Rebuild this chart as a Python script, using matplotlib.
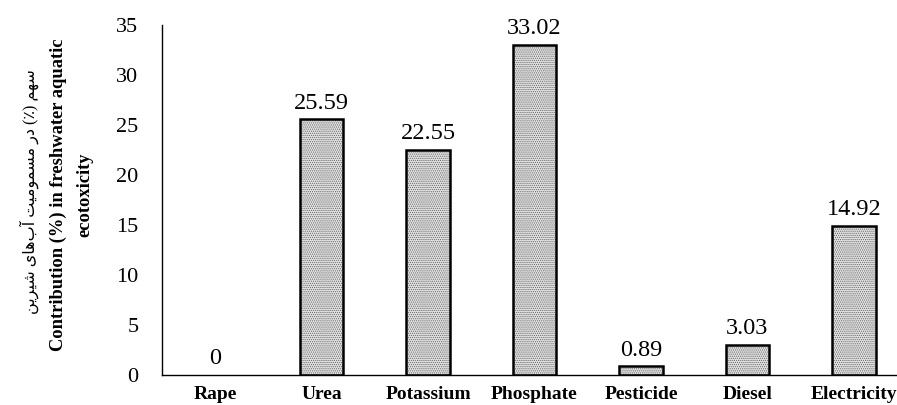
import matplotlib
matplotlib.use('Agg')
import matplotlib.pyplot as plt
import numpy as np

# data
categories = ['Rape', 'Urea', 'Potassium', 'Phosphate', 'Pesticide', 'Diesel', 'Electricity']
values = [0, 25.59, 22.55, 33.02, 0.89, 3.03, 14.92]
value_labels = ['0', '25.59', '22.55', '33.02', '0.89', '3.03', '14.92']
yticks = [0, 5, 10, 15, 20, 25, 30, 35]

label_fa = 'سهم (٪) در مسمومیت آب\u200cهای شیرین'
label_en = 'Contribution (%) in freshwater aquatic'
label_en2 = 'ecotoxicity'

# small arabic shaper (no arabic_reshaper / bidi available)
FORMS = {
    'ا': ('\uFE8D', '\uFE8E', None, None),
    'آ': ('\uFE81', '\uFE82', None, None),
    'د': ('\uFEA9', '\uFEAA', None, None),
    'ر': ('\uFEAD', '\uFEAE', None, None),
    'و': ('\uFEED', '\uFEEE', None, None),
    'ب': ('\uFE8F', '\uFE90', '\uFE91', '\uFE92'),
    'ت': ('\uFE95', '\uFE96', '\uFE97', '\uFE98'),
    'س': ('\uFEB1', '\uFEB2', '\uFEB3', '\uFEB4'),
    'ش': ('\uFEB5', '\uFEB6', '\uFEB7', '\uFEB8'),
    'م': ('\uFEE1', '\uFEE2', '\uFEE3', '\uFEE4'),
    'ن': ('\uFEE5', '\uFEE6', '\uFEE7', '\uFEE8'),
    'ه': ('\uFEE9', '\uFEEA', '\uFEEB', '\uFEEC'),
    'ی': ('\uFBFC', '\uFBFD', '\uFBFE', '\uFBFF'),
}


def shape_rtl(s):
    out = []
    for i, c in enumerate(s):
        if c not in FORMS:
            if c != '\u200c':
                out.append(c)
            continue
        p = s[i - 1] if i > 0 else ''
        n = s[i + 1] if i < len(s) - 1 else ''
        dual = FORMS[c][2] is not None
        pj = p in FORMS and FORMS[p][2] is not None
        nj = dual and n in FORMS
        if pj and nj:
            out.append(FORMS[c][3])
        elif pj:
            out.append(FORMS[c][1])
        elif nj:
            out.append(FORMS[c][2])
        else:
            out.append(FORMS[c][0])
    vis = ''.join(reversed(out))
    return vis.translate(str.maketrans('()', ')('))


plt.rcParams['font.family'] = ['Liberation Serif', 'DejaVu Sans']
plt.rcParams['hatch.linewidth'] = 0.6
plt.rcParams['hatch.color'] = '#6a6a6a'

fig = plt.figure(figsize=(8.97, 4.05), dpi=100)
ax = fig.add_axes([162 / 897, 30 / 405, 745 / 897, 350 / 405])

x = np.arange(len(categories))
ax.bar(x, values, width=0.41, color='#e2e2e2', hatch='........', edgecolor='#6a6a6a', linewidth=0)
edge_w = [1.8 if v > 0 else 0 for v in values]
ax.bar(x, values, width=0.41, fill=False, edgecolor='black', linewidth=edge_w)

for xi, v, t in zip(x, values, value_labels):
    ax.annotate(t, (xi, v), xytext=(0, 4), textcoords='offset points',
                ha='center', va='bottom', fontsize=17.5)

ax.set_xlim(-0.5, len(categories) - 0.5)
ax.set_ylim(0, 35)
ax.set_yticks(yticks)
ax.set_xticks(x)
ax.set_xticklabels(categories, fontweight='bold', fontsize=14)
ax.tick_params(axis='y', length=0, pad=17, labelsize=16)
ax.tick_params(axis='x', length=0, pad=8)
for side in ['top', 'right']:
    ax.spines[side].set_visible(False)
for side in ['left', 'bottom']:
    ax.spines[side].set_linewidth(1.0)

fig.text(29 / 897, 1 - 192 / 405, shape_rtl(label_fa), rotation=90, ha='center', va='center',
         fontsize=11.5)
fig.text(58 / 897, 1 - 195 / 405, label_en, rotation=90, ha='center', va='center',
         fontsize=13.3, fontweight='bold')
fig.text(85 / 897, 1 - 195 / 405, label_en2, rotation=90, ha='center', va='center',
         fontsize=13.3, fontweight='bold')

fig.savefig('out.png', dpi=100)
